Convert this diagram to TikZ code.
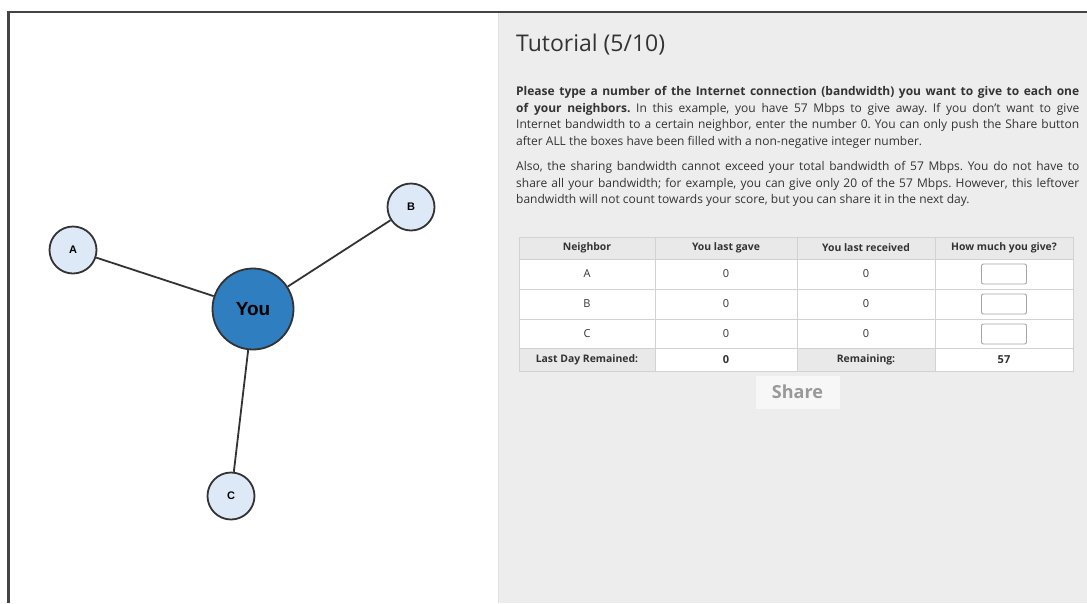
\documentclass[tikz,border=0pt]{standalone}
\usepackage{fontspec}
\setmainfont{Open Sans}
\newfontfamily\nodefont{Liberation Sans}
\definecolor{panel}{HTML}{EDEDED}
\definecolor{frame}{HTML}{444444}
\definecolor{edgec}{HTML}{333333}
\definecolor{leaf}{HTML}{DDE9F7}
\definecolor{youc}{HTML}{2F7EBF}
\definecolor{txt}{HTML}{333333}
\definecolor{grid}{HTML}{D2D2D2}
\definecolor{hdr}{HTML}{E9E9E9}
\tikzset{
  leafnode/.style={circle,draw=edgec,line width=1.8pt,fill=leaf,minimum size=47pt,inner sep=0pt,font=\nodefont\bfseries\fontsize{11}{13}\selectfont},
  younode/.style={circle,draw=edgec,line width=1.8pt,fill=youc,minimum size=81pt,inner sep=0pt,font=\nodefont\bfseries\fontsize{19}{21}\selectfont},
  link/.style={draw=edgec,line width=1.8pt},
  hcell/.style={draw=grid,fill=hdr,line width=0.8pt},
  bcell/.style={draw=grid,fill=white,line width=0.8pt},
  htext/.style={font=\bfseries\fontsize{10.4}{12}\selectfont,text=txt},
  btext/.style={font=\fontsize{11}{13}\selectfont,text=txt},
  vtext/.style={font=\bfseries\fontsize{11}{13}\selectfont,text=txt},
  para/.style={anchor=north west,inner sep=0pt,text=txt,text width=563pt,align=justify,font=\fontsize{12}{16.8}\selectfont\frenchspacing},
  inbox/.style={draw=black!35,fill=white,rounded corners=2pt,line width=0.9pt,minimum width=45pt,minimum height=20pt,inner sep=0pt}
}
\begin{document}
\begin{tikzpicture}[x=1pt,y=-1pt]
\useasboundingbox (0,0) rectangle (1087,603);
\fill[white] (0,0) rectangle (1087,603);
\fill[panel] (498,12) rectangle (1087,603);
\draw[black!12,line width=0.8pt] (498,13) -- (498,603);
\draw[frame,line width=2.4pt] (8.5,603) -- (8.5,12) -- (1087,12);
% graph
\node[younode] (you) at (253,309) {You};
\node[leafnode] (a) at (73,250) {A};
\node[leafnode] (b) at (411,207) {B};
\node[leafnode] (c) at (231,496) {C};
\draw[link] (a) -- (you);
\draw[link] (b) -- (you);
\draw[link] (c) -- (you);
% title
\node[anchor=base west,inner sep=0pt,text=txt,font=\fontsize{23}{26}\selectfont] (title) at (516,51) {Tutorial (5/10)};
% paragraphs
\node[para] (p1) at (516,86) {\textbf{Please type a number of the Internet connection (bandwidth) you want to give to each one\linebreak of your neighbors.} In this example, you have 57 Mbps to give away. If you don't want to give\linebreak Internet bandwidth to a certain neighbor, enter the number 0. You can only push the Share button\linebreak after ALL the boxes have been filled with a non-negative integer number.};
\node[para] (p2) at (516,161) {Also, the sharing bandwidth cannot exceed your total bandwidth of 57 Mbps. You do not have to\linebreak share all your bandwidth; for example, you can give only 20 of the 57 Mbps. However, this leftover\linebreak bandwidth will not count towards your score, but you can share it in the next day.};
% table
\foreach \xa/\xb in {519/655,655/797,797/935,935/1073}{
  \path[hcell] (\xa,237) rectangle (\xb,259);
  \path[bcell] (\xa,259) rectangle (\xb,289);
  \path[bcell] (\xa,289) rectangle (\xb,319);
  \path[bcell] (\xa,319) rectangle (\xb,348);
}
\path[hcell] (519,348) rectangle (655,371);
\path[bcell] (655,348) rectangle (797,371);
\path[hcell] (797,348) rectangle (935,371);
\path[bcell] (935,348) rectangle (1073,371);
\node[htext] (h1) at (587,248) {Neighbor};
\node[htext] (h2) at (726,248) {You last gave};
\node[htext] (h3) at (866,248) {You last received};
\node[htext] (h4) at (1004,248) {How much you give?};
\node[btext] (ra) at (587,274) {A};
\node[btext] (rb) at (587,304) {B};
\node[btext] (rc) at (587,334) {C};
\node[btext] (ga) at (726,274) {0};
\node[btext] (gb) at (726,304) {0};
\node[btext] (gc) at (726,334) {0};
\node[btext] (xa) at (866,274) {0};
\node[btext] (xb) at (866,304) {0};
\node[btext] (xc) at (866,334) {0};
\node[inbox] (ia) at (1004,274) {};
\node[inbox] (ib) at (1004,304) {};
\node[inbox] (ic) at (1004,334) {};
\node[htext] (ld) at (587,360) {Last Day Remained:};
\node[vtext] (ldv) at (726,360) {0};
\node[htext] (rm) at (866,360) {Remaining:};
\node[vtext] (rmv) at (1004,360) {57};
% share button
\node[fill=black!3,minimum width=84pt,minimum height=33pt,inner sep=0pt,text=black!40,font=\bfseries\fontsize{18}{20}\selectfont] (share) at (797.5,392) {Share};
\end{tikzpicture}
\end{document}
